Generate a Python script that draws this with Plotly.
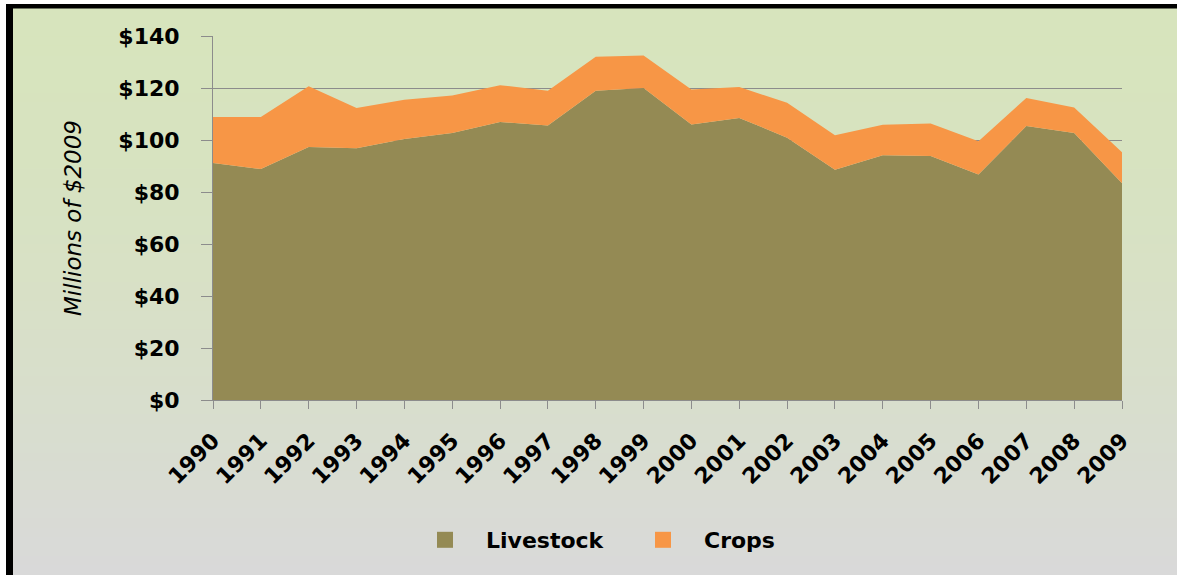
import plotly.graph_objects as go

years = list(range(1990, 2010))
livestock = [91.2, 88.8, 97.3, 96.8, 100.4, 102.7, 106.9, 105.6, 118.9, 120.0,
             106.0, 108.5, 100.9, 88.6, 94.1, 93.8, 86.7, 105.4, 102.7, 83.4]
crops = [17.6, 20.0, 23.4, 15.5, 15.1, 14.4, 14.2, 13.3, 13.1, 12.5,
         13.4, 11.9, 13.4, 13.2, 11.8, 12.5, 12.8, 10.8, 9.8, 11.9]
y_ticks = [0, 20, 40, 60, 80, 100, 120, 140]
y_labels = ["$" + str(v) for v in y_ticks]

W, H = 1177, 575
L, R, T, B = 213, 55, 36, 175
FONT = "DejaVu Sans"
OLIVE = "#948A54"
ORANGE = "#F79646"


def px_x(p):
    return (p - L) / (W - L - R)


def px_y(p):
    return 1 - (p - T) / (H - T - B)


fig = go.Figure()
fig.add_trace(go.Scatter(x=years, y=livestock, name="Livestock", stackgroup="one",
                         mode="none", fillcolor=OLIVE, showlegend=False))
fig.add_trace(go.Scatter(x=years, y=crops, name="Crops", stackgroup="one",
                         mode="none", fillcolor=ORANGE, showlegend=False))
# legend entries as square markers
fig.add_trace(go.Scatter(x=[None], y=[None], name="Livestock", mode="markers",
                         marker=dict(symbol="square", size=16, color=OLIVE)))
fig.add_trace(go.Scatter(x=[None], y=[None], name="Crops", mode="markers",
                         marker=dict(symbol="square", size=16, color=ORANGE)))

# gradient background, green to grey
shapes = []
n = 60
top, bot = 8, H
c1 = (215, 228, 189)
c2 = (217, 217, 217)
for i in range(n):
    y0 = top + (bot - top) * i / n
    y1 = top + (bot - top) * (i + 1) / n + 1
    f = (i / (n - 1)) ** 1.6
    c = tuple(round(a + (b - a) * f) for a, b in zip(c1, c2))
    shapes.append(dict(type="rect", xref="paper", yref="paper", layer="below",
                       x0=px_x(12), x1=px_x(W + 5), y0=px_y(y1), y1=px_y(y0),
                       line=dict(width=0), fillcolor="rgb(%d,%d,%d)" % c))
# black frame top and left
shapes.append(dict(type="rect", xref="paper", yref="paper", layer="above",
                   x0=px_x(6), x1=px_x(W + 5), y0=px_y(8.5), y1=px_y(4),
                   line=dict(width=0), fillcolor="black"))
shapes.append(dict(type="rect", xref="paper", yref="paper", layer="above",
                   x0=px_x(6), x1=px_x(13), y0=px_y(H + 5), y1=px_y(4),
                   line=dict(width=0), fillcolor="black"))

fig.update_layout(
    width=W, height=H,
    margin=dict(l=L, r=R, t=T, b=B),
    paper_bgcolor="white",
    plot_bgcolor="rgba(0,0,0,0)",
    shapes=shapes,
    font=dict(family=FONT, color="black"),
    showlegend=True,
    legend=dict(orientation="h", x=px_x(404), xanchor="left", y=px_y(540), yanchor="middle",
                font=dict(size=22, family=FONT, weight="bold"),
                bgcolor="rgba(0,0,0,0)", itemwidth=72,
                entrywidth=131, traceorder="normal"),
    xaxis=dict(range=[1990, 2009], tickvals=years, ticktext=[str(v) for v in years],
               tickangle=-45, tickfont=dict(size=22, weight="bold"),
               showgrid=False, showline=True, linecolor="#8C8C8C", linewidth=1,
               ticks="outside", ticklen=8, tickcolor="#8C8C8C", zeroline=False,
               ticklabelstandoff=10),
    yaxis=dict(range=[0, 140], tickvals=y_ticks, ticktext=y_labels,
               tickfont=dict(size=22, weight="bold"),
               showgrid=True, gridcolor="#8C8C8C", gridwidth=1,
               showline=True, linecolor="#8C8C8C", linewidth=1,
               ticks="outside", ticklen=11, tickcolor="#8C8C8C", zeroline=False,
               ticklabelstandoff=17,
               title=dict(text="<i>Millions of $2009</i>", font=dict(size=23), standoff=30)),
)

fig.write_html("out.html", config={"displayModeBar": False},
               post_script="document.body.style.margin='0';document.body.style.overflow='hidden';")
